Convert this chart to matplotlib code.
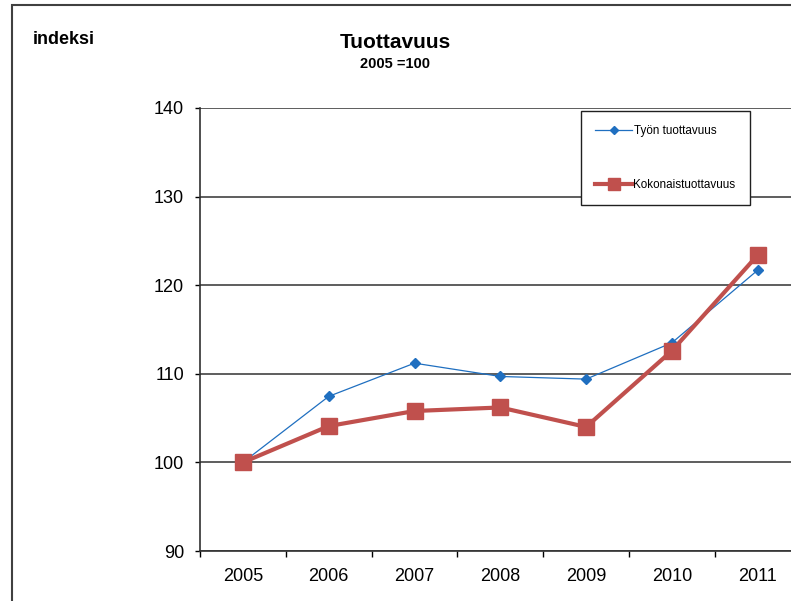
import matplotlib.pyplot as plt
import matplotlib.patches as patches
import numpy as np

plt.rcParams['font.family'] = ['Liberation Sans', 'DejaVu Sans']

years = ['2005', '2006', '2007', '2008', '2009', '2010', '2011']
tyon = [100, 107.45, 111.2, 109.7, 109.4, 113.5, 121.7]
kokonais = [100, 104.1, 105.8, 106.2, 104.0, 112.6, 123.4]

W, H = 791, 601
fig = plt.figure(figsize=(W / 100, H / 100), dpi=100)
ax = fig.add_axes([200 / W, 50 / H, 600.6 / W, 443 / H])

x = np.arange(len(years)) + 0.5
ax.plot(x, tyon, color='#1f6fc0', lw=0.9, marker='D', ms=5.5,
        label='Työn tuottavuus', zorder=3)
ax.plot(x, kokonais, color='#c0504d', lw=3, marker='s', ms=11,
        label='Kokonaistuottavuus', zorder=4)

ax.set_xlim(0, 7)
ax.set_ylim(90, 140)
ax.set_yticks(range(90, 141, 10))
ax.set_xticks(range(0, 8))
ax.set_xticklabels([])
ax.set_xticks(x, minor=True)
ax.set_xticklabels(years, minor=True)
ax.tick_params(axis='x', which='minor', length=0, pad=12, labelsize=13)
ax.tick_params(axis='x', which='major', length=4, direction='out', width=1)
ax.tick_params(axis='y', length=3.5, direction='out', labelsize=13, pad=8, width=1)
ax.yaxis.grid(True, color='#505050', lw=1.3)
ax.set_axisbelow(True)
for s in ['top', 'right']:
    ax.spines[s].set_visible(False)
for s in ['left', 'bottom']:
    ax.spines[s].set_color('#303030')
    ax.spines[s].set_linewidth(1.2)

leg = ax.legend(loc='upper left', bbox_to_anchor=(581 / W, 1 - 111 / H),
                bbox_transform=fig.transFigure, fontsize=8.4, frameon=True,
                fancybox=False, edgecolor='#202020', framealpha=1,
                labelspacing=3.6, handlelength=3.2, handletextpad=0.1,
                borderpad=1.2, borderaxespad=0, markerscale=0.75)
leg.get_frame().set_linewidth(1.0)

fig.text(395 / W, 1 - 43 / H, 'Tuottavuus', ha='center', va='center',
         fontsize=15, fontweight='bold')
fig.text(395 / W, 1 - 64 / H, '2005 =100', ha='center', va='center',
         fontsize=10.5, fontweight='bold')
fig.text(33 / W, 1 - 40 / H, 'indeksi', ha='left', va='center',
         fontsize=13, fontweight='bold')

frame = patches.Rectangle((12 / W, -0.1), 1.0, 1.1 - 5 / H,
                          transform=fig.transFigure, fill=False,
                          edgecolor='#404040', lw=1.5, clip_on=False)
fig.patches.append(frame)

plt.savefig('out.png', dpi=100)
